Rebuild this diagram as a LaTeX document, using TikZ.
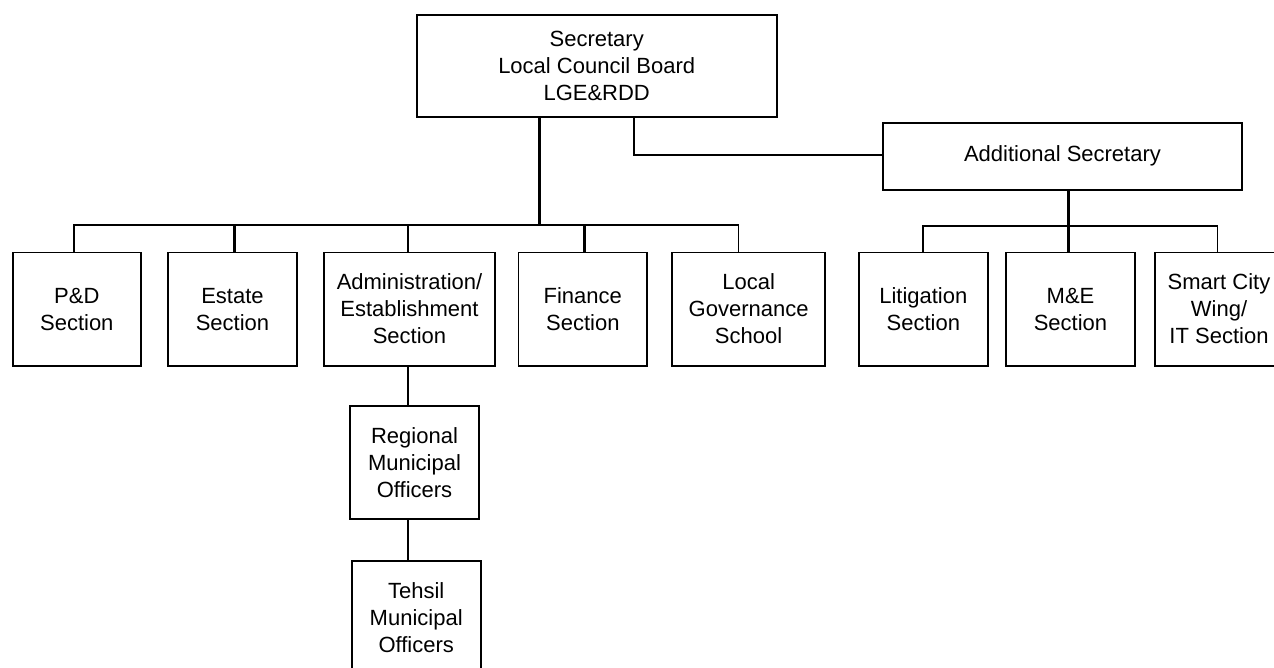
\documentclass[tikz,border=0pt]{standalone}
\usepackage{fontspec}
\setmainfont{Liberation Sans}
\begin{document}
\begin{tikzpicture}[x=1pt,y=-1pt,
  box/.style={draw, line width=1.8pt, rectangle, inner sep=0pt, align=center,
    font=\fontsize{22}{27}\selectfont},
  child/.style={box, minimum height=113.2pt},
  thinline/.style={line width=1.7pt},
  heavy/.style={line width=3pt}]
\useasboundingbox (0,0) rectangle (1274,668);
% top level
\node[box, minimum width=360pt, minimum height=101.7pt] (sec) at (596.7,65.8)
  {Secretary\\Local Council Board\\LGE\&RDD};
\node[box, minimum width=359pt, minimum height=67.3pt] (addsec) at (1062.5,156.3)
  {Additional Secretary};
% left children
\node[child, minimum width=128.3pt] (pd) at (76.8,309.1) {P\&D\\Section};
\node[child, minimum width=128.4pt] (estate) at (232.5,309.1) {Estate\\Section};
\node[child, minimum width=171pt] (admin) at (409.5,309.1) {Administration/\\Establishment\\Section};
\node[child, minimum width=128.8pt] (finance) at (582.8,309.1) {Finance\\Section};
\node[child, minimum width=152.7pt] (lgs) at (748.6,309.1) {Local\\Governance\\School};
% right children
\node[child, minimum width=128.7pt] (lit) at (923.3,309.1) {Litigation\\Section};
\node[child, minimum width=129pt] (me) at (1070.5,309.1) {M\&E\\Section};
\node[child, minimum width=128pt] (smart) at (1219,309.1) {Smart City\\Wing/\\IT Section};
% lower chain
\node[child, minimum width=129pt, minimum height=113.6pt] (reg) at (414.5,462.5) {Regional\\Municipal\\Officers};
\node[child, minimum width=129pt, minimum height=113.6pt] (teh) at (416.2,617.8) {Tehsil\\Municipal\\Officers};
% junctions
\coordinate (j1) at (539.3,225);
\coordinate (b0) at (74,225);
\coordinate (b1) at (234.3,225);
\coordinate (b2) at (408,225);
\coordinate (b3) at (584.5,225);
\coordinate (b4) at (738.4,225);
\coordinate (c1) at (634,155);
\coordinate (r0) at (922.7,226);
\coordinate (r1) at (1068.7,226);
\coordinate (r2) at (1217.5,226);
\coordinate (a0) at (408,400);
% connectors
\draw[heavy] (sec.south -| j1) -- (j1);
\draw[thinline] (pd.north -| b0) -- (b0) -- (b4) -- (lgs.north -| b4);
\draw[heavy] (b1) -- (estate.north -| b1);
\draw[thinline] (b2) -- (admin.north -| b2);
\draw[heavy] (b3) -- (finance.north -| b3);
\draw[thinline] (sec.south -| c1) -- (c1) -- (addsec.west |- c1);
\draw[thinline] (lit.north -| r0) -- (r0) -- (r2) -- (smart.north -| r2);
\draw[heavy] (addsec.south -| r1) -- (me.north -| r1);
\draw[thinline] (admin.south -| a0) -- (reg.north -| a0);
\draw[thinline] (reg.south -| a0) -- (teh.north -| a0);
\end{tikzpicture}
\end{document}
